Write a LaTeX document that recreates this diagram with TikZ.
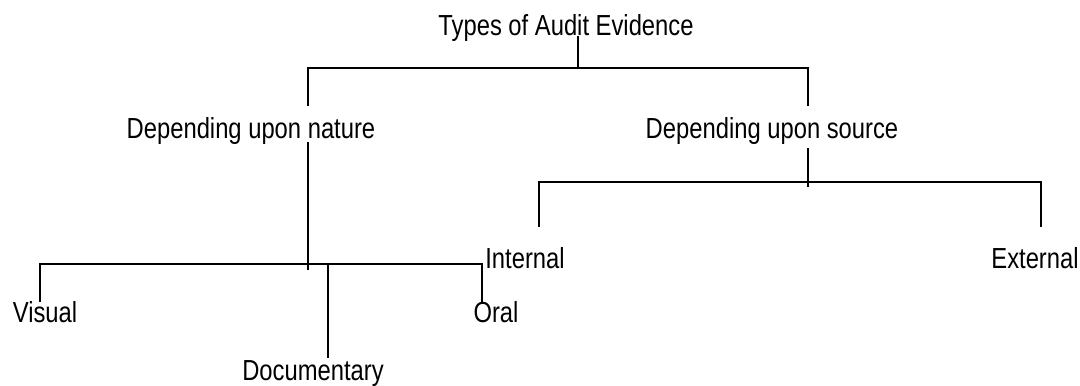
\documentclass[tikz,border=0pt]{standalone}
\usepackage{fontspec}
\setmainfont{Liberation Sans}[FakeStretch=0.82]
\usepackage{tikz}

\tikzset{lbl/.style={inner sep=0pt,anchor=base,font=\fontsize{14.5}{17}\selectfont}}

\begin{document}
\begin{tikzpicture}[x=0.5pt,y=-0.5pt,line width=1pt]
        \useasboundingbox (0,0) rectangle (1080,385);

        \node[lbl] (types) at (566,36) {Types of Audit Evidence};
        \node[lbl] (nature) at (251,138) {Depending upon nature};
        \node[lbl] (source) at (772,138) {Depending upon source};
        \node[lbl] (internal) at (525,268) {Internal};
        \node[lbl] (external) at (1035,268) {External};
        \node[lbl] (visual) at (45,322) {Visual};
        \node[lbl] (oral) at (496,322) {Oral};
        \node[lbl] (documentary) at (313,380) {Documentary};

        % junctions and line ends
        \coordinate (jt) at (577.5,68);
        \coordinate (jn) at (308,264);
        \coordinate (js) at (808,182);
        \coordinate (nt) at (308,106);
        \coordinate (nb) at (308,142);
        \coordinate (ne) at (308,270);
        \coordinate (st) at (808,106);
        \coordinate (sb) at (808,148);
        \coordinate (se) at (808,187);
        \coordinate (vt) at (40,302);
        \coordinate (ot) at (482,302);
        \coordinate (dt) at (328,358);
        \coordinate (it) at (539,227);
        \coordinate (et) at (1041,227);

        \path[draw]

        (types.base -| jt) -- (jt)

        (nt) |- (jt) -| (st)

        (nb) -- (ne)

        (vt) |- (jn) -| (ot)

        (jn -| dt) -- (dt)

        (sb) -- (se)

        (it) |- (js) -| (et)

        ;
\end{tikzpicture}
\end{document}
